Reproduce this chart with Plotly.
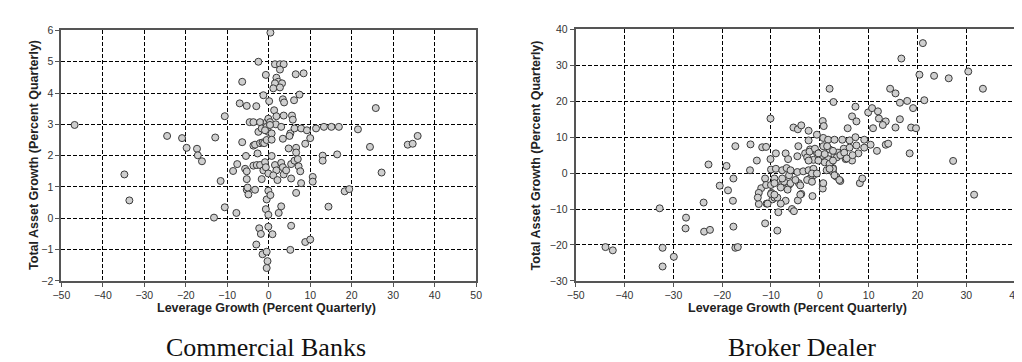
import plotly.graph_objects as go

# Commercial Banks: leverage growth (x) vs total asset growth (y)
cb_x = [-46.8, -34.8, -33.6, -24.5, -20.9, -19.8, -17.3, -17.1, -16.1, -12.9, -13.2, -11.6, -10.6, -10.6,
        -8.6, -7.8, -7.6, -6.4, -6.4, -7.0, -5.3, -5.5, -5.7, -5.3, -5.3, -5.3, -4.9, -5.1, -3.3,
        -4.6, -3.7, -2.1, -0.5, -3.7, -3.3, -3.7, -2.9, -2.1, -2.5, -0.7, -1.3, -3.0, -2.7, -2.5,
        -2.1, -1.5, -1.1, -0.5, -1.7, -1.7, -1.3, -0.9, -0.7, -0.5, -0.7, -0.1, -0.1, 0.4,
        -2.3, -1.9, -0.1, 0.9, -3.0, -1.5, -0.5, -0.3, -0.5, 0.4, 1.5, 2.7, 3.6, 2.7, 1.85, 2.3,
        1.5, 3.2, 1.1, 2.7, 6.5, 8.4, 7.4, 6.1, 3.4, 3.7, 0.1, 1.3, 1.85, 3.6, 5.6, 5.8, -0.1, 0.3,
        -0.5, 1.7, 3.0, 0.3, -0.1, -0.9, 0.7, 5.2, 5.0, 6.2, 7.8, 9.2, 11.4, 13.3, 15.1, 16.9,
        21.5, 10.0, 25.8, 0.7, 3.4, 4.8, 6.6, 8.8, 6.6, 0.7, 24.4, 33.5, 34.7, 35.9, 13.0, 13.0,
        16.5, 27.2, 1.5, 3.0, 3.4, 5.4, 6.2, 7.0, 7.2, 7.6, -0.1, 1.85, 3.6, 4.2, 1.1, 2.1, 5.4,
        7.8, 10.6, 10.6, 6.6, 18.3, 19.4, 14.4, 2.4, 3.0, 5.4, 5.2, 8.8, 10.0]
cb_y = [2.98, 1.40, 0.57, 2.63, 2.56, 2.25, 2.22, 2.01, 1.82, 2.58, 0.02, 1.19, 0.35, 3.26,
        1.51, 0.17, 1.73, 4.36, 2.43, 3.67, 3.59, 1.99, 1.58, 1.50, 1.25, 0.91, 0.76, 0.98, 0.91,
        3.07, 3.07, 3.07, 3.07, 2.32, 2.35, 1.68, 1.70, 1.70, 5.00, 4.58, 3.93, 3.58, 2.07, 2.76,
        2.40, 2.42, 2.40, 2.50, 2.87, 1.25, 1.53, 1.79, 1.63, 0.60, 0.29, 0.11, 0.88, 0.74,
        -0.32, -0.50, -0.27, -0.51, -0.84, -1.15, -1.07, -1.37, -1.59, 5.93, 4.92, 4.92, 4.92, 4.75, 4.49, 4.36,
        4.31, 4.31, 4.15, 4.18, 4.60, 4.63, 3.95, 3.77, 3.80, 3.70, 3.74, 3.45, 3.26, 3.28, 3.28, 3.15, 3.18, 3.07,
        2.92, 3.00, 2.92, 2.98, 2.76, 2.81, 2.71, 2.71, 2.63, 2.87, 2.87, 2.81, 2.87, 2.92, 2.92, 2.92,
        2.84, 2.56, 3.52, 2.51, 2.54, 2.23, 2.25, 2.38, 2.10, 1.99, 2.28, 2.35, 2.38, 2.63, 2.00, 1.84,
        2.04, 1.46, 1.70, 1.77, 1.63, 1.73, 1.84, 1.89, 1.66, 1.50, 1.43, 1.53, 1.40, 1.53, 1.37, 1.22, 1.27,
        1.12, 1.32, 1.17, 0.81, 0.86, 0.93, 0.37, 0.17, 0.38, -0.24, -1.01, -0.76, -0.68]

# Broker Dealer
bd_x = [-10.1, -17.3, -14.2, -11.8, -12.9, -10.1, -22.8, -19.1, -14.3, -20.5, -18.8, -17.7, -11.2, -12.0,
        -12.5, -11.0, -9.9, -9.7, -17.8, -23.8, -12.5, -10.9, -32.8, -27.4, -27.5, -23.7, -22.5, -17.7,
        -11.2, -43.9, -42.4, -32.2, -29.9, -32.2, -17.3, -16.8, 31.6, 8.2, 8.7, 4.2, 3.4, 2.7, 0.6, 0.6,
        -1.5, -3.8, -4.5, -5.7, -5.3, -4.3, -6.3, -7.7, -10.0, -7.0, -8.0, -8.5, -9.3, -10.0, -8.7,
        -1.3, -2.0, -2.6, -6.3, -7.3, -6.6, -9.3, 21.1, 16.7, 20.4, 23.4, 26.4, 30.4, 33.4, 2.0, 2.8,
        14.4, 15.5, 16.4, 17.9, 19.1, 21.4, 7.3, 6.6, 7.5, 9.9, 10.7, 11.9, 12.1, 13.5, 12.9, 16.4,
        15.5, 18.7, 19.7, 0.6, 0.8, -5.4, -4.5, -3.8, -2.3, 5.7, 10.9, -0.6, -2.3, 0.7, 1.7, 3.0,
        4.6, 6.1, 7.3, 9.1, 10.4, 11.7, 13.5, 18.4, 27.3, -11.0, -9.0, -7.0, -6.5, -4.6, -4.4, -3.0,
        -2.0, -0.6, 0.7, 2.0, 3.0, 3.7, 4.9, 6.1, 7.5, 7.9, 6.6, 5.3, 3.5, 1.7, 0.4, -1.3, -2.6,
        -10.0, -9.0, -7.7, -6.8, -6.0, -4.6, -3.4, -2.3, -1.3, -1.6, 1.4, 2.7, -0.6, 14.0, -2.1,
        -1.0, -0.3, 1.0, 1.5, 2.7, 4.2, 5.0, 5.5, 6.7, 9.1, -2.3, -0.3, 1.0, 2.0, 2.7, -9.3, -7.7,
        -6.0, -8.0, -5.0, -4.0, -1.6, 0.7, 2.7, 4.0, 3.0, 2.0, -8.7, -10.7, -12.7, -9.3, -4.0]
bd_y = [15.2, 7.5, 8.0, 7.2, 3.5, 3.9, 2.4, 2.0, 0.8, -3.5, -4.8, -1.5, -1.5, -4.2,
        -5.5, -3.3, -5.5, -7.3, -7.7, -8.2, -8.6, -8.5, -9.8, -12.4, -15.4, -16.3, -15.8, -14.9,
        -14.0, -20.6, -21.5, -20.8, -23.3, -26.0, -20.8, -20.6, -6.0, -2.8, -1.5, -2.2, -1.0, 0.3, -3.1, -4.3,
        -6.4, -5.8, -7.6, -10.0, -10.6, -2.8, -3.3, -2.8, -3.3, -7.7, -8.5, -10.9, -6.8, -5.8, -16.0,
        -0.6, -1.5, -1.9, -0.6, -2.4, -4.6, -1.5, 36.2, 31.9, 27.4, 27.1, 26.4, 28.3, 23.5, 23.5, 19.8,
        23.5, 22.2, 19.6, 20.1, 18.1, 20.3, 18.5, 15.8, 14.4, 16.9, 18.1, 17.2, 15.2, 14.4, 13.4, 15.0,
        12.7, 12.7, 12.5, 14.5, 13.1, 12.7, 12.2, 13.3, 11.8, 12.5, 12.5, 10.7, 9.1, 9.8, 9.3, 9.3,
        9.3, 9.1, 10.0, 9.3, 7.9, 6.2, 7.9, 5.5, 3.4, 7.3, 5.5, 5.5, 3.9, 4.7, 7.5, 5.5,
        6.6, 5.7, 7.5, 6.6, 5.0, 5.7, 6.8, 7.1, 7.7, 5.5, 3.5, 3.9, 4.4, 3.9, 4.8, 3.7, 4.4,
        1.0, 1.2, 0.8, 1.4, 0.8, 0.3, 0.5, 0.8, 1.2, -0.1, 0.8, 1.4, -0.1, 8.2, 6.0,
        6.8, 5.5, 5.3, 7.5, 6.2, 5.0, 5.7, 4.1, 5.0, 7.1, 3.5, 3.5, 3.0, 2.6, 3.5, -2.8, -1.5,
        -2.8, -4.0, -1.9, -3.4, -2.4, -2.8, 1.2, -1.9, -0.6, 1.2, -6.8, -8.5, -6.8, -6.0, -6.0]

cb_xticks = list(range(-50, 51, 10))
cb_yticks = list(range(-2, 7, 1))
bd_xticks = list(range(-50, 41, 10))
bd_yticks = list(range(-30, 41, 10))

W, H = 1022, 362
marker = dict(size=7, color="#cfcfcf", line=dict(color="#3a3a3a", width=1))

fig = go.Figure()
fig.add_trace(go.Scatter(x=cb_x, y=cb_y, mode="markers", marker=marker, xaxis="x", yaxis="y",
                         cliponaxis=False, showlegend=False))
fig.add_trace(go.Scatter(x=bd_x, y=bd_y, mode="markers", marker=marker, xaxis="x2", yaxis="y2",
                         cliponaxis=False, showlegend=False))

tickfont = dict(family="Liberation Sans, Arial", size=10.5, color="#333333")
common = dict(showgrid=True, gridcolor="#000000", gridwidth=1, griddash="4px,2px",
              zeroline=False, showline=True, linecolor="#555555", linewidth=2, mirror=True,
              ticks="outside", ticklen=4, tickcolor="#555555", tickfont=tickfont)

def px_x(p):
    return p / W

def px_y(p):
    return 1 - p / H

fig.update_layout(
    width=W, height=H,
    margin=dict(l=0, r=0, t=0, b=0),
    paper_bgcolor="white", plot_bgcolor="white",
    xaxis=dict(domain=[px_x(45), px_x(466)], range=[-50, 50], tickvals=cb_xticks, anchor="y", **common),
    yaxis=dict(domain=[px_y(276), px_y(17)], range=[-2, 6], tickvals=cb_yticks, anchor="x", **common),
    xaxis2=dict(domain=[px_x(567), px_x(1013)], range=[-50, 40], tickvals=bd_xticks, anchor="y2", **common),
    yaxis2=dict(domain=[px_y(276), px_y(16)], range=[-30, 40], tickvals=bd_yticks, anchor="x2", **common),
)

title_font = dict(family="Liberation Sans, Arial", size=12.5, color="#222222")
sub_font = dict(family="Liberation Serif, Times New Roman, serif", size=26, color="#111111")
ann = [
    dict(text="<b>Leverage Growth (Percent Quarterly)</b>", x=px_x(253), y=px_y(304), font=title_font),
    dict(text="<b>Total Asset Growth (Percent Quarterly)</b>", x=px_x(17), y=px_y(146), font=title_font, textangle=-90),
    dict(text="<b>Leverage Growth (Percent Quarterly)</b>", x=px_x(792), y=px_y(304), font=title_font),
    dict(text="<b>Total Asset Growth (Percent Quarterly)</b>", x=px_x(527), y=px_y(146), font=title_font, textangle=-90),
    dict(text="Commercial Banks", x=px_x(253), y=px_y(345), font=sub_font),
    dict(text="Broker Dealer", x=px_x(797), y=px_y(345), font=sub_font),
]
for a in ann:
    a.update(xref="paper", yref="paper", showarrow=False, xanchor="center", yanchor="middle")
fig.update_layout(annotations=ann)

fig.write_html("out.html")
